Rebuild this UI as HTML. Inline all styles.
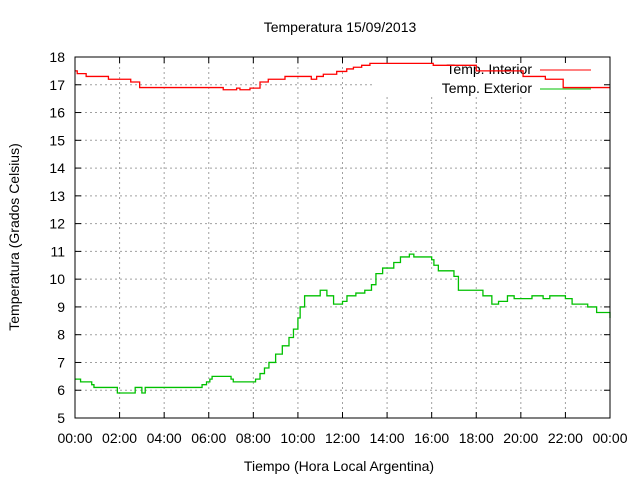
<!DOCTYPE html>
<html><head><meta charset="utf-8"><style>
body{margin:0;background:#fff}
svg{display:block;font-family:"Liberation Sans",sans-serif}
</style></head><body>
<svg id="chart" width="640" height="480" viewBox="0 0 640 480" xmlns="http://www.w3.org/2000/svg">
<text x="340" y="32" font-size="14" text-anchor="middle">Temperatura 15/09/2013</text>
<text transform="translate(19,237) rotate(-90)" font-size="14" text-anchor="middle">Temperatura (Grados Celsius)</text>
<text x="339" y="471" font-size="14" text-anchor="middle">Tiempo (Hora Local Argentina)</text>
<g id="grid"></g>
<rect x="374" y="58" width="235" height="39" fill="#fff"/>
<g id="ticks"></g>
<g id="legend">
<text x="532" y="74" font-size="14" text-anchor="end">Temp. Interior</text>
<line x1="540" y1="70" x2="591" y2="70" stroke="#ff0000" stroke-width="1"/>
<text x="532" y="93" font-size="14" text-anchor="end">Temp. Exterior</text>
<line x1="540" y1="89" x2="591" y2="89" stroke="#00c000" stroke-width="1"/>
</g>
<g id="series"></g>
<rect x="75" y="57" width="535" height="361" fill="none" stroke="#000" stroke-width="1"/>
</svg>
<script>
const xTickLabels=["00:00","02:00","04:00","06:00","08:00","10:00","12:00","14:00","16:00","18:00","20:00","22:00","00:00"];
const yTickLabels=[5,6,7,8,9,10,11,12,13,14,15,16,17,18];
const interiorHours=[0,0.1,0.5,1.5,2.5,2.9,6.65,7.25,7.4,7.85,8.3,8.67,9.42,10.6,10.84,11.14,11.74,12.19,12.49,12.86,13.23,16.07,18.0,20.1,21.1,21.9,24];
const interiorValues=[17.5,17.4,17.3,17.2,17.1,16.9,16.82,16.88,16.82,16.88,17.1,17.2,17.3,17.2,17.3,17.38,17.48,17.57,17.63,17.7,17.77,17.7,17.5,17.3,17.2,16.9,16.9];
const exteriorHours=[0,0.25,0.75,0.85,1.9,2.7,3.0,3.15,5.5,5.7,5.9,6.05,6.15,7.0,7.1,8.1,8.3,8.5,8.7,9.0,9.3,9.6,9.8,10.0,10.1,10.3,11.0,11.3,11.6,12.0,12.2,12.6,13.0,13.3,13.5,13.8,14.3,14.6,15.0,15.2,16.0,16.1,16.3,16.6,17.0,17.2,18.0,18.3,18.7,19.0,19.4,19.7,20.5,21.0,21.3,22.0,22.3,23.0,23.4,24];
const exteriorValues=[6.4,6.3,6.2,6.1,5.9,6.1,5.9,6.1,6.1,6.2,6.3,6.4,6.5,6.4,6.3,6.4,6.6,6.8,7.0,7.3,7.6,7.9,8.2,8.6,9.0,9.4,9.6,9.4,9.1,9.2,9.4,9.5,9.6,9.8,10.2,10.4,10.6,10.8,10.9,10.8,10.7,10.5,10.3,10.3,10.1,9.6,9.6,9.4,9.1,9.2,9.4,9.3,9.4,9.3,9.4,9.3,9.1,9.0,8.8,8.6];
const X0=75,X1=610,Y0=418,Y1=57;
const xs=h=>X0+(X1-X0)*h/24;
const ys=v=>Y0-(Y0-Y1)*(v-5)/13;
const NS="http://www.w3.org/2000/svg";
const grid=document.getElementById('grid'),ticks=document.getElementById('ticks'),series=document.getElementById('series');
function mk(tag,attrs,parent){const e=document.createElementNS(NS,tag);for(const k in attrs)e.setAttribute(k,attrs[k]);parent.appendChild(e);return e;}
xTickLabels.forEach((lab,i)=>{
  const x=xs(i*2);
  if(i>0&&i<xTickLabels.length-1){
    const g=mk('line',{x1:x,y1:Y1,x2:x,y2:Y0,stroke:'#a0a0a0','stroke-dasharray':'2,3'},grid);
    
    
  }
  const t1=mk('line',{x1:x,y1:Y0,x2:x,y2:Y0-6,stroke:'#000'},ticks);
  
  
  const t2=mk('line',{x1:x,y1:Y1,x2:x,y2:Y1+6,stroke:'#000'},ticks);
  
  
  const tx=mk('text',{x:x,y:443,'font-size':14,'text-anchor':'middle'},ticks);
  tx.textContent=lab;
  
  
});
yTickLabels.forEach(v=>{
  const y=ys(v);
  if(v>5&&v<18){
    const g=mk('line',{x1:X0,y1:y,x2:X1,y2:y,stroke:'#a0a0a0','stroke-dasharray':'2,3'},grid);
    
    
  }
  const t1=mk('line',{x1:X0,y1:y,x2:X0+6,y2:y,stroke:'#000'},ticks);
  
  
  const t2=mk('line',{x1:X1,y1:y,x2:X1-6,y2:y,stroke:'#000'},ticks);
  
  
  const tx=mk('text',{x:65,y:y+5,'font-size':14,'text-anchor':'end'},ticks);
  tx.textContent=v;
  
  
});
function stepPath(hs,vs){
  let d='M'+xs(hs[0])+','+ys(vs[0]);
  for(let i=1;i<hs.length;i++){d+=' H'+xs(hs[i])+' V'+ys(vs[i]);}
  return d;
}
const pi=mk('path',{d:stepPath(interiorHours,interiorValues),fill:'none',stroke:'#ff0000','stroke-width':1.3},series);


const pe=mk('path',{d:stepPath(exteriorHours,exteriorValues),fill:'none',stroke:'#00c000','stroke-width':1.3},series);


</script>
</body></html>
